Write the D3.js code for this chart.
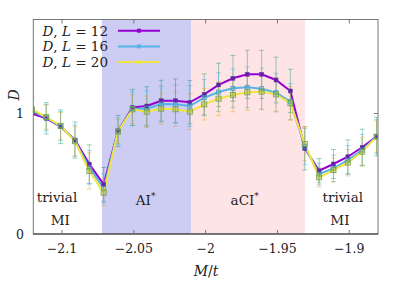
<!DOCTYPE html>
<html><head><meta charset="utf-8">
<script src="https://cdn.jsdelivr.net/npm/d3@7"></script>
<style>body{margin:0;background:#fff}svg{display:block}text{font-family:"DejaVu Serif","Liberation Serif",serif;fill:#222}</style>
</head><body>
<svg id="c" width="407" height="285"></svg>
<script>
const M = [-2.121,-2.111,-2.101,-2.091,-2.081,-2.071,-2.061,-2.051,-2.041,-2.031,-2.021,-2.011,-2.001,-1.991,-1.981,-1.971,-1.961,-1.951,-1.941,-1.931,-1.921,-1.911,-1.901,-1.891,-1.881];
const D12 = [1.00,0.960,0.890,0.780,0.580,0.412,0.855,1.050,1.062,1.106,1.106,1.093,1.159,1.237,1.292,1.325,1.325,1.278,1.187,0.711,0.525,0.581,0.641,0.720,0.808];
const D16 = [1.02,0.965,0.895,0.775,0.553,0.378,0.855,1.040,1.040,1.079,1.076,1.062,1.131,1.178,1.209,1.217,1.206,1.173,1.098,0.725,0.498,0.545,0.614,0.697,0.808];
const D20 = [1.035,0.970,0.897,0.770,0.523,0.343,0.850,1.035,1.015,1.040,1.035,1.015,1.076,1.123,1.154,1.176,1.181,1.159,1.085,0.747,0.470,0.531,0.592,0.683,0.808];
const E12 = [0.13,0.13,0.14,0.15,0.16,0.14,0.13,0.15,0.16,0.17,0.18,0.18,0.17,0.18,0.19,0.20,0.20,0.19,0.18,0.18,0.10,0.12,0.14,0.15,0.16];
const E16 = [0.11,0.11,0.12,0.13,0.14,0.12,0.11,0.14,0.15,0.15,0.16,0.17,0.15,0.16,0.16,0.17,0.17,0.16,0.15,0.15,0.09,0.11,0.12,0.13,0.14];
const E20 = [0.10,0.10,0.11,0.12,0.15,0.11,0.10,0.12,0.13,0.13,0.14,0.15,0.13,0.14,0.14,0.15,0.15,0.14,0.14,0.14,0.08,0.10,0.11,0.12,0.13];
const xTicks = [-2.1,-2.05,-2,-1.95,-1.9];
const xTickLabels = ["\u22122.1","\u22122.05","\u22122","\u22121.95","\u22121.9"];
const yTicks = [0,1];
const yTickLabels = ["0","1"];
const regions = [{x0:-2.0722,x1:-2.0101,c:"#cdcdf3"},{x0:-2.0101,x1:-1.9308,c:"#fee4e4"}];

const svg = d3.select("#c");
const L=33.3,R=378,T=19.5,B=234;
const x = d3.scaleLinear().domain([-2.12,-1.88]).range([L,R]);
const y = d3.scaleLinear().domain([0,1.78]).range([B,T]);

svg.append("clipPath").attr("id","cp").append("rect").attr("x",L).attr("y",T).attr("width",R-L).attr("height",B-T);
const g = svg.append("g").attr("clip-path","url(#cp)");
g.selectAll("rect.reg").data(regions).join("rect").attr("x",d=>x(d.x0)).attr("width",d=>x(d.x1)-x(d.x0)).attr("y",T).attr("height",B-T).attr("fill",d=>d.c);

// region labels
const lab = [
 {t:"trivial",x:-2.1035,y:202},{t:"MI",x:-2.1012,y:225},
 {t:"AI",s:"*",x:-2.0418,y:205},{t:"aCI",s:"*",x:-1.9728,y:205},
 {t:"trivial",x:-1.9045,y:202},{t:"MI",x:-1.9065,y:225}];
lab.forEach(d=>{
  const t=svg.append("text").attr("x",x(d.x)).attr("y",d.y).attr("text-anchor","middle").attr("font-size",13.5).text(d.t);
  if(d.s) t.append("tspan").attr("font-size",9).attr("dy",-6).text(d.s);
});

const series=[{d:D12,e:E12,c:"#9400d3",ec:"rgba(0,140,110,0.4)"},{d:D16,e:E16,c:"#56b4e9",ec:"rgba(70,170,220,0.45)"},{d:D20,e:E20,c:"#f0e442",ec:"rgba(230,159,0,0.4)"}];
series.forEach(s=>{
  g.append("path").attr("d",d3.line().x((v,i)=>x(M[i])).y(v=>y(v))(s.d)).attr("fill","none").attr("stroke",s.c).attr("stroke-width",2);
});
series.forEach(s=>{
  s.d.forEach((v,i)=>{
    const cx=x(M[i]);
    const y0=y(v-s.e[i]), y1=y(v+s.e[i]);
    g.append("line").attr("x1",cx).attr("x2",cx).attr("y1",y0).attr("y2",y1).attr("stroke",s.ec).attr("stroke-width",1);
    [y0,y1].forEach(yy=>g.append("line").attr("x1",cx-2.5).attr("x2",cx+2.5).attr("y1",yy).attr("y2",yy).attr("stroke",s.ec).attr("stroke-width",1));
  });
});
// markers
D12.forEach((v,i)=>g.append("rect").attr("x",x(M[i])-2).attr("y",y(v)-2).attr("width",4).attr("height",4).attr("fill","#6a1aa8").attr("stroke","#5b4a9a").attr("stroke-width",0.5));
D16.forEach((v,i)=>g.append("rect").attr("x",x(M[i])-2).attr("y",y(v)-2).attr("width",4).attr("height",4).attr("fill","none").attr("stroke","#3a9ec8").attr("stroke-width",0.8));
D20.forEach((v,i)=>{
  g.append("rect").attr("x",x(M[i])-2.5).attr("y",y(v)-2.5).attr("width",5).attr("height",5).attr("fill","none").attr("stroke","#79a050").attr("stroke-width",0.9);
  g.append("circle").attr("cx",x(M[i])).attr("cy",y(v)).attr("r",1.6).attr("fill","none").attr("stroke","#a9c040").attr("stroke-width",0.7);
});

// frame
svg.append("rect").attr("x",L).attr("y",T).attr("width",R-L).attr("height",B-T).attr("fill","none").attr("stroke","#777").attr("stroke-width",1);
svg.append("line").attr("x1",L).attr("x2",R).attr("y1",B).attr("y2",B).attr("stroke","#333").attr("stroke-width",1.2);
xTicks.forEach((t,i)=>{
  svg.append("line").attr("x1",x(t)).attr("x2",x(t)).attr("y1",B).attr("y2",B-4).attr("stroke","#777");
  svg.append("line").attr("x1",x(t)).attr("x2",x(t)).attr("y1",T).attr("y2",T+4).attr("stroke","#777");
  svg.append("text").attr("x",x(t)).attr("y",253).attr("text-anchor","middle").attr("font-size",12.5).text(xTickLabels[i]);
});
yTicks.forEach((t,i)=>{
  svg.append("line").attr("x1",L).attr("x2",L+4).attr("y1",y(t)).attr("y2",y(t)).attr("stroke","#777");
  svg.append("line").attr("x1",R).attr("x2",R-4).attr("y1",y(t)).attr("y2",y(t)).attr("stroke","#777");
  svg.append("text").attr("x",24).attr("y",y(t)+4.5).attr("text-anchor","end").attr("font-size",12.5).text(yTickLabels[i]);
});
// axis labels
const xl=svg.append("text").attr("x",206).attr("y",276).attr("text-anchor","middle").attr("font-size",14);
xl.append("tspan").attr("font-style","italic").text("M");
xl.append("tspan").text("/");
xl.append("tspan").attr("font-style","italic").text("t");
svg.append("text").attr("transform","translate(19,95) rotate(-90)").attr("text-anchor","middle").attr("font-size",14).attr("font-style","italic").text("D");

// legend
const legs=[{n:"12",c:"#9400d3",m:"sq"},{n:"16",c:"#56b4e9",m:"sq"},{n:"20",c:"#f0e442",m:"ci"}];
legs.forEach((l,i)=>{
  const yy=30.7+i*15.7;
  const t=svg.append("text").attr("x",108).attr("y",yy+5).attr("text-anchor","end").attr("font-size",13.5);
  t.append("tspan").attr("font-style","italic").text("D");
  t.append("tspan").text(", ");
  t.append("tspan").attr("font-style","italic").text("L");
  t.append("tspan").text(" = "+l.n);
  svg.append("line").attr("x1",118).attr("x2",160).attr("y1",yy).attr("y2",yy).attr("stroke",l.c).attr("stroke-width",2);
  if(l.m==="sq") svg.append("rect").attr("x",137).attr("y",yy-2).attr("width",4).attr("height",4).attr("fill",l.c);
  else svg.append("circle").attr("cx",139).attr("cy",yy).attr("r",2.2).attr("fill",l.c);
});
</script>
</body></html>
